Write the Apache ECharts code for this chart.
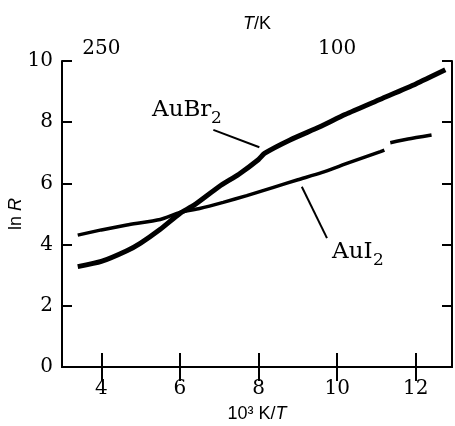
<!DOCTYPE html>
<html>
<head>
<meta charset="utf-8">
<script src="https://cdn.jsdelivr.net/npm/echarts@6/dist/echarts.min.js"></script>
<style>
html,body{margin:0;padding:0;background:#fff;}
#chart{width:455px;height:426px;}
</style>
</head>
<body>
<div id="chart"></div>
<script>
// ticks (10^3 K/T) and the T/K labels on the top axis
var xTicks = [4, 6, 8, 10, 12];
var topTickText = {4: '250', 10: '100'};

// AuBr2 curve
var auBrX = [3.4, 4.0, 4.65, 5.0, 5.5, 6.0, 6.35, 7.0, 7.5, 8.0, 8.15, 8.8, 9.56, 10.2, 11.1, 12.0, 12.75];
var auBrY = [3.28, 3.45, 3.80, 4.05, 4.50, 5.02, 5.28, 5.90, 6.30, 6.78, 6.98, 7.42, 7.85, 8.25, 8.75, 9.25, 9.71];

// AuI2 curve (gap near 11.27)
var auIX = [3.4, 4.0, 4.65, 5.5, 6.0, 6.5, 7.1, 7.7, 8.4, 9.0, 9.6, 10.3, 11.1, 11.2, 11.27, 11.35, 11.8, 12.4];
var auIY = [4.31, 4.48, 4.64, 4.82, 5.05, 5.18, 5.38, 5.60, 5.88, 6.12, 6.35, 6.68, 7.04, 7.09, '-', 7.33, 7.45, 7.58];

// leader lines from labels to curves
var brLeader = [[6.85, 7.75], [8.02, 7.18]];
var iLeader = [[9.10, 5.89], [9.74, 4.21]];

function zip(a, b) {
	var out = [];
	for (var i = 0; i < a.length; i++) out.push([a[i], b[i]]);
	return out;
}

var serif = 'DejaVu Serif';
var sans = 'Liberation Sans';

var chart = echarts.init(document.getElementById('chart'));

var axisLine = {show: true, lineStyle: {color: '#000', width: 2}};
var nameRich = {
	n: {fontFamily: sans, fontSize: 18, color: '#000'},
	i: {fontFamily: sans, fontSize: 18, fontStyle: 'italic', color: '#000'}
};

var option = {
	animation: false,
	backgroundColor: '#fff',
	grid: {left: 62, right: 3, top: 61, bottom: 59, containLabel: false, outerBoundsMode: 'none'},
	xAxis: [
		{
			type: 'value', min: 3, max: 12.92, interval: 2,
			position: 'bottom',
			axisLine: axisLine,
			axisTick: {show: true, inside: true, length: 14, lineStyle: {color: '#000', width: 2},
				customValues: xTicks},
			splitLine: {show: false},
			axisLabel: {fontFamily: serif, fontSize: 20, color: '#000', margin: 12,
				customValues: xTicks},
			name: '{n|10³ K/}{i|T}', nameLocation: 'middle', nameGap: 38, nameMoveOverlap: false,
			nameTextStyle: {rich: nameRich}
		},
		{
			type: 'value', min: 3, max: 12.92, interval: 2,
			position: 'top',
			axisLine: axisLine,
			axisTick: {show: true, inside: true, length: 14, lineStyle: {color: '#000', width: 2},
				customValues: xTicks},
			splitLine: {show: false},
			axisLabel: {fontFamily: serif, fontSize: 20, color: '#000', margin: 2,
				customValues: [4, 10],
				formatter: function (v) { return topTickText[v] || ''; }},
			name: '{i|T}{n|/K}', nameLocation: 'middle', nameGap: 28, nameMoveOverlap: false,
			nameTextStyle: {rich: nameRich}
		}
	],
	yAxis: [
		{
			type: 'value', min: 0, max: 10, interval: 2,
			position: 'left',
			axisLine: axisLine,
			axisTick: {show: true, inside: true, length: 10, lineStyle: {color: '#000', width: 2}},
			splitLine: {show: false},
			axisLabel: {fontFamily: serif, fontSize: 20, color: '#000', margin: 9},
			name: '{n|ln }{i|R}', nameLocation: 'middle', nameGap: 37, nameRotate: 90, nameMoveOverlap: false,
			nameTextStyle: {rich: nameRich}
		},
		{
			type: 'value', min: 0, max: 10, interval: 2,
			position: 'right',
			axisLine: axisLine,
			axisTick: {show: true, inside: true, length: 10, lineStyle: {color: '#000', width: 2}},
			splitLine: {show: false},
			axisLabel: {show: false}
		}
	],
	series: [
		{
			name: 'AuBr2', type: 'line', data: zip(auBrX, auBrY),
			showSymbol: false, smooth: 0.2,
			lineStyle: {color: '#000', width: 5}
		},
		{
			name: 'AuI2', type: 'line', data: zip(auIX, auIY),
			showSymbol: false, smooth: 0.2, connectNulls: false,
			lineStyle: {color: '#000', width: 3.5}
		},
		{
			type: 'line', data: brLeader, showSymbol: false,
			lineStyle: {color: '#000', width: 2}
		},
		{
			type: 'line', data: iLeader, showSymbol: false,
			lineStyle: {color: '#000', width: 2}
		}
	]
};
chart.setOption(option);

// curve labels with subscripts, anchored in data space (left edge, cap middle)
function label(main, sub, at, subDx) {
	var p = chart.convertToPixel({gridIndex: 0}, at);
	return [
		{type: 'text', x: p[0], y: p[1],
			style: {text: main, font: '23px "DejaVu Serif"', fill: '#000', verticalAlign: 'middle'}},
		{type: 'text', x: p[0] + subDx, y: p[1] + 9,
			style: {text: sub, font: '17px "DejaVu Serif"', fill: '#000', verticalAlign: 'middle'}}
	];
}
chart.setOption({graphic: label('AuBr', '2', [5.29, 8.4], 59).concat(label('AuI', '2', [9.87, 3.77], 41))});

window.addEventListener('resize', function () { chart.resize(); });
</script>
</body>
</html>
